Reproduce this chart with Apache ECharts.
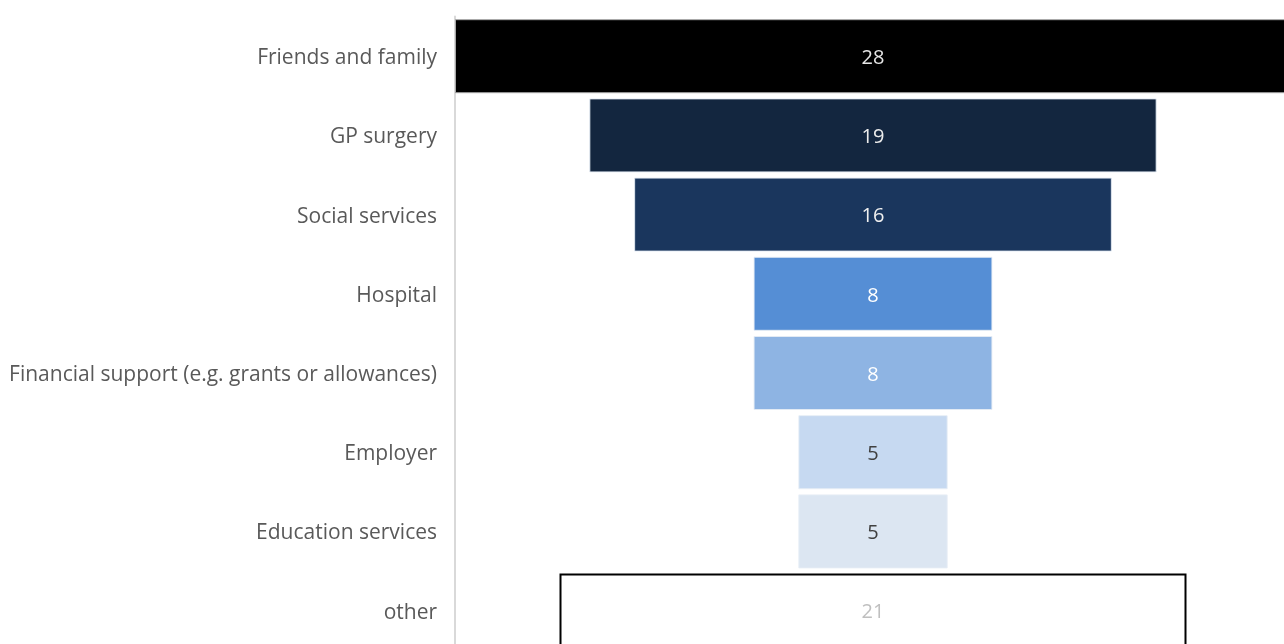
<!DOCTYPE html>
<html>
<head>
<meta charset="utf-8">
<script src="https://cdn.jsdelivr.net/npm/echarts@6/dist/echarts.min.js"></script>
<style>
html,body{margin:0;padding:0;background:#fff;overflow:hidden;width:1284px;height:644px;}
#chart{width:1291px;height:651px;}
</style>
</head>
<body>
<div id="chart"></div>
<script>
const categories = ["Friends and family","GP surgery","Social services","Hospital","Financial support (e.g. grants or allowances)","Employer","Education services","other"];
const values = [28,19,16,8,8,5,5,21];
const barColors = ["#000000","#13263f","#1a365d","#558ed5","#8eb4e3","#c6d9f1","#dce6f2","#ffffff"];
const labelColors = ["#e6e6e6","#ececec","#f0f0f0","#ffffff","#ffffff","#404040","#404040","#bfbfbf"];
const maxValue = 28;

const FONT = "Open Sans";
const chart = echarts.init(document.getElementById('chart'), null, {renderer:'canvas'});

const offsets = values.map(v => (maxValue - v) / 2);
const barData = values.map((v, i) => {
  const item = {
    value: v,
    itemStyle: { color: barColors[i], borderColor: i === 0 ? '#a6a6a6' : 'rgba(230,236,245,0.9)', borderWidth: 1 },
    label: { color: labelColors[i] }
  };
  if (i === values.length - 1) {
    item.itemStyle = { color: '#ffffff', borderColor: '#000000', borderWidth: 2 };
  }
  return item;
});

chart.setOption({
  animation: false,
  grid: { left: 455, right: 0, top: 16.6, bottom: 0.8, containLabel: false },
  xAxis: { type: 'value', min: 0, max: maxValue, show: false },
  yAxis: {
    type: 'category', data: categories, inverse: true,
    axisLine: { show: true, lineStyle: { color: '#d9d9d9', width: 2 } },
    axisTick: { show: false },
    axisLabel: {
      margin: 18,
      formatter: v => '{a|' + v + '}',
      rich: { a: { color: '#595959', fontSize: 21, fontFamily: FONT, padding: [4, 0, 0, 0] } }
    },
    splitLine: { show: false }
  },
  series: [
    { type: 'bar', stack: 'f', data: offsets, itemStyle: { color: 'transparent' }, barWidth: 74, silent: true },
    { type: 'bar', stack: 'f', data: barData, barWidth: 74,
      label: { show: true, position: 'inside', fontSize: 20, fontFamily: FONT, offset: [0, 2] } }
  ]
});
</script>
</body>
</html>
